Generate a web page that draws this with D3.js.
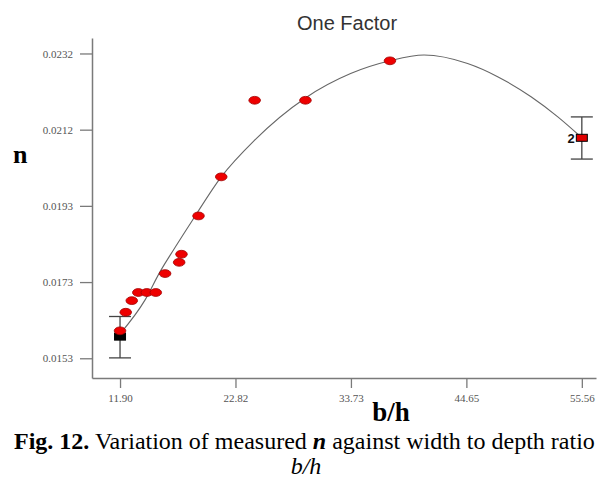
<!DOCTYPE html>
<html>
<head>
<meta charset="utf-8">
<script src="https://cdn.jsdelivr.net/npm/d3@7"></script>
<style>
  body { margin: 0; background: #fff; }
  svg { display: block; }
</style>
</head>
<body>
<svg id="chartSVG" width="599" height="480"></svg>
<script>
// measured points (b/h, n)
const ratioValues = [11.90, 12.44, 13.01, 13.63, 14.43, 15.28, 16.16, 17.49, 17.71, 19.32, 21.47, 24.63, 29.43, 37.42];
const nValues = [0.01603, 0.01651, 0.01681, 0.01702, 0.01702, 0.01702, 0.01751, 0.01780, 0.01801, 0.01900, 0.02001, 0.02199, 0.02199, 0.02301];

// model curve
const fitRatio = [11.90, 14.27, 15.69, 16.95, 18.75, 21.47, 24.63, 29.43, 33.70, 37.42, 40.64, 44.76, 47.60, 50.76, 53.29, 55.56];
const fitN = [0.01595, 0.01683, 0.01756, 0.01812, 0.01889, 0.02001, 0.02096, 0.02205, 0.02268, 0.02301, 0.02316, 0.02294, 0.02260, 0.02208, 0.02156, 0.02102];

// design points with their interval bars
const designRatio = [11.90, 55.56];
const designN = [0.01588, 0.02102];
const designLow = [0.01533, 0.02047];
const designHigh = [0.01640, 0.02156];
const designLabels = ["", "2"];
const designColors = ["#000", "#e00000"];

// axis ticks
const xTickValues = [11.90, 22.815, 33.73, 44.645, 55.56];
const xTickLabels = ["11.90", "22.82", "33.73", "44.65", "55.56"];
const yTickValues = [0.01532, 0.01729, 0.01926, 0.02123, 0.02320];
const yTickLabels = ["0.0153", "0.0173", "0.0193", "0.0212", "0.0232"];

const svg = d3.select("#chartSVG");

const x = d3.scaleLinear().domain([9.25, 56.9]).range([92, 596]);
const y = d3.scaleLinear().domain([0.01481, 0.02360]).range([378, 38]);

// axes
const xAxis = d3.axisBottom(x)
  .tickValues(xTickValues)
  .tickFormat((d, i) => xTickLabels[i])
  .tickSize(10)
  .tickSizeOuter(0)
  .tickPadding(6);
const yAxis = d3.axisLeft(y)
  .tickValues(yTickValues)
  .tickFormat((d, i) => yTickLabels[i])
  .tickSize(12)
  .tickSizeOuter(0)
  .tickPadding(7);

const xg = svg.append("g").attr("transform", "translate(0,378)").call(xAxis);
const yg = svg.append("g").attr("transform", "translate(92,0)").call(yAxis);

[xg, yg].forEach(g => {
  g.select(".domain").attr("stroke", "#7a7a7a").attr("stroke-width", 1.5);
  g.selectAll(".tick line").attr("stroke", "#7a7a7a").attr("stroke-width", 1.3);
  g.selectAll(".tick text")
    .attr("fill", "#555")
    .style("font-family", "'Liberation Serif', 'Times New Roman', serif")
    .style("font-size", "11px");
});

// fitted curve
const line = d3.line()
  .x((d, i) => x(fitRatio[i]))
  .y(d => y(d))
  .curve(d3.curveMonotoneX);
svg.append("path")
  .attr("d", line(fitN))
  .attr("fill", "none")
  .attr("stroke", "#666")
  .attr("stroke-width", 1.1);

// interval bars
designRatio.forEach((r, i) => {
  const g = svg.append("g").attr("stroke", "#444").attr("stroke-width", 1.3);
  g.append("line")
    .attr("x1", x(r)).attr("x2", x(r))
    .attr("y1", y(designHigh[i])).attr("y2", y(designLow[i]));
  [designHigh[i], designLow[i]].forEach(v => {
    g.append("line")
      .attr("x1", x(r) - 11).attr("x2", x(r) + 11)
      .attr("y1", y(v)).attr("y2", y(v));
  });
  svg.append("rect")
    .attr("x", x(r) - 5.5).attr("y", y(designN[i]) - 3.5)
    .attr("width", 11).attr("height", 7)
    .attr("fill", designColors[i])
    .attr("stroke", "#000").attr("stroke-width", 1);
  if (designLabels[i]) {
    svg.append("text")
      .attr("x", x(r) - 7).attr("y", y(designN[i]) + 5)
      .attr("text-anchor", "end")
      .style("font-family", "'Liberation Sans', Arial, sans-serif")
      .style("font-weight", "bold")
      .style("font-size", "13px")
      .attr("fill", "#111")
      .text(designLabels[i]);
  }
});

// measured points
svg.append("g").selectAll("ellipse")
  .data(nValues)
  .join("ellipse")
  .attr("cx", (d, i) => x(ratioValues[i]))
  .attr("cy", d => y(d))
  .attr("rx", 5.8)
  .attr("ry", 3.9)
  .attr("fill", "#ee0000")
  .attr("stroke", "#a00000")
  .attr("stroke-width", 0.8);

// titles
svg.append("text")
  .attr("x", 297).attr("y", 30)
  .style("font-family", "'Liberation Sans', Arial, sans-serif")
  .style("font-size", "20px")
  .attr("fill", "#333")
  .text("One Factor");

svg.append("text")
  .attr("x", 13).attr("y", 163)
  .style("font-family", "'Liberation Serif', 'Times New Roman', serif")
  .style("font-weight", "bold")
  .style("font-size", "26px")
  .text("n");

svg.append("text")
  .attr("x", 391).attr("y", 421)
  .attr("text-anchor", "middle")
  .style("font-family", "'Liberation Serif', 'Times New Roman', serif")
  .style("font-weight", "bold")
  .style("font-size", "27px")
  .text("b/h");

// caption
const cap = svg.append("text")
  .attr("x", 14).attr("y", 449)
  .style("font-family", "'Liberation Serif', 'Times New Roman', serif")
  .style("font-size", "24px");
cap.append("tspan").style("font-weight", "bold").text("Fig. 12.");
cap.append("tspan").text(" Variation of measured ");
cap.append("tspan").style("font-weight", "bold").style("font-style", "italic").text("n");
cap.append("tspan").text(" against width to depth ratio");

svg.append("text")
  .attr("x", 306).attr("y", 474)
  .attr("text-anchor", "middle")
  .style("font-family", "'Liberation Serif', 'Times New Roman', serif")
  .style("font-style", "italic")
  .style("font-size", "24px")
  .text("b/h");
</script>
</body>
</html>
